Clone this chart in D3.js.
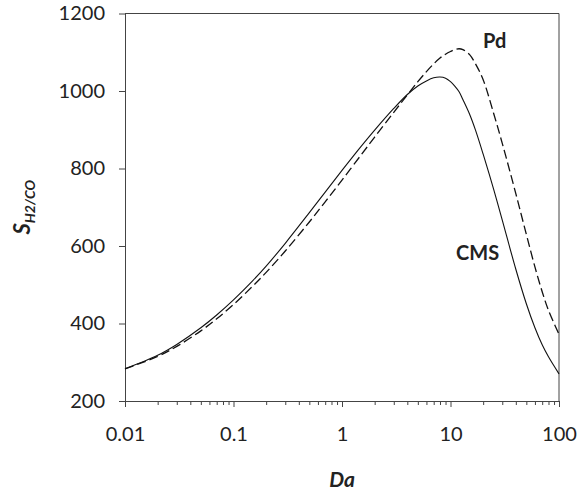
<!DOCTYPE html>
<html>
<head>
<meta charset="utf-8">
<script src="https://cdn.jsdelivr.net/npm/d3@7"></script>
<style>
  body { margin: 0; background: #fff; }
  text { font-family: Lato, "Open Sans", sans-serif; fill: #222; }
  .axis path, .axis line { stroke: #444; stroke-width: 1; }
  .axis text { font-size: 20px; fill: #222; font-family: Lato, "Open Sans", sans-serif; }
</style>
</head>
<body>
<div id="chart"></div>
<script>
// Damkohler number (x) and H2/CO selectivity of the two membranes
var da  = [0.01, 0.02, 0.03, 0.05, 0.07, 0.1, 0.15, 0.2, 0.3, 0.5, 0.7, 1, 1.5, 2, 3, 4, 5, 6, 7, 8, 9, 10, 11, 12, 13, 15, 17, 20, 25, 30, 40, 50, 60, 70, 80, 100];
var cms = [283, 318, 346, 389, 422, 461, 510, 548, 607, 686, 739, 795, 857, 899, 955, 991, 1013, 1026, 1034, 1036, 1033, 1024, 1012, 998, 978, 940, 899, 837, 746, 667, 540, 451, 389, 345, 314, 270];
var pd  = [283, 315, 341, 381, 412, 449, 496, 532, 587, 662, 714, 770, 835, 881, 945, 990, 1024, 1050, 1070, 1085, 1095, 1102, 1107, 1109, 1107, 1094, 1070, 1029, 942, 865, 735, 630, 546, 482, 434, 372];

var yTicks = [200, 400, 600, 800, 1000, 1200];
var xTicks = [0.01, 0.1, 1, 10, 100];
var xTickLabels = ["0.01", "0.1", "1", "10", "100"];

(function () {
  "use strict";

  var W = 579, H = 495;
  var margin = { top: 13.5, right: 20, bottom: 94, left: 125 };

  var svg = d3.select("#chart").append("svg")
    .attr("width", W)
    .attr("height", H);

  var x = d3.scaleLog().domain([0.01, 100]).range([margin.left, W - margin.right]);
  var y = d3.scaleLinear().domain([200, 1200]).range([H - margin.bottom, margin.top]);

  // minor ticks 2..9 of every decade
  var minor = [];
  for (var e = -2; e < 2; e++) {
    for (var m = 2; m <= 9; m++) minor.push(m * Math.pow(10, e));
  }

  // frame: top and right
  svg.append("line")
    .attr("x1", x.range()[0]).attr("x2", x.range()[1])
    .attr("y1", y(1200)).attr("y2", y(1200))
    .attr("stroke", "#444");
  svg.append("line")
    .attr("x1", x(100)).attr("x2", x(100))
    .attr("y1", y(200)).attr("y2", y(1200))
    .attr("stroke", "#444");

  svg.append("g")
    .attr("class", "axis")
    .attr("transform", "translate(0," + y(200) + ")")
    .call(d3.axisBottom(x).tickValues(minor).tickSize(4).tickSizeOuter(0).tickFormat(""))
    .call(function (g) { g.select(".domain").remove(); });

  svg.append("g")
    .attr("class", "axis")
    .attr("transform", "translate(0," + y(200) + ")")
    .call(d3.axisBottom(x).tickValues(xTicks).tickSize(6).tickSizeOuter(0).tickPadding(20)
      .tickFormat(function (d, i) { return xTickLabels[i]; }));

  svg.append("g")
    .attr("class", "axis")
    .attr("transform", "translate(" + x(0.01) + ",0)")
    .call(d3.axisLeft(y).tickValues(yTicks).tickSize(6).tickSizeOuter(0).tickPadding(14)
      .tickFormat(d3.format("d")));

  var line = function (vals) {
    return d3.line()
      .x(function (d, i) { return x(da[i]); })
      .y(function (d) { return y(d); })
      .curve(d3.curveCatmullRom.alpha(0.5))(vals);
  };

  svg.append("path")
    .attr("d", line(pd))
    .attr("fill", "none")
    .attr("stroke", "#111")
    .attr("stroke-width", 1.3)
    .attr("stroke-dasharray", "9,4");

  svg.append("path")
    .attr("d", line(cms))
    .attr("fill", "none")
    .attr("stroke", "#111")
    .attr("stroke-width", 1.1);

  // series labels
  svg.append("text").attr("x", 483).attr("y", 48)
    .style("font-size", "20px").style("font-weight", "bold").text("Pd");
  svg.append("text").attr("x", 456).attr("y", 260)
    .style("font-size", "20px").style("font-weight", "bold").text("CMS");

  // axis titles
  svg.append("text")
    .attr("x", (x.range()[0] + x.range()[1]) / 2)
    .attr("y", 487)
    .attr("text-anchor", "middle")
    .style("font-size", "21px").style("font-weight", "bold").style("font-style", "italic")
    .text("Da");

  var yt = svg.append("text")
    .attr("transform", "translate(30," + (y(200) + y(1200)) / 2 + ") rotate(-90)")
    .attr("text-anchor", "middle")
    .style("font-weight", "bold").style("font-style", "italic");
  yt.append("tspan").style("font-size", "22px").text("S");
  yt.append("tspan").attr("dy", 5).style("font-size", "14px").text("H2/CO");
})();
</script>
</body>
</html>
